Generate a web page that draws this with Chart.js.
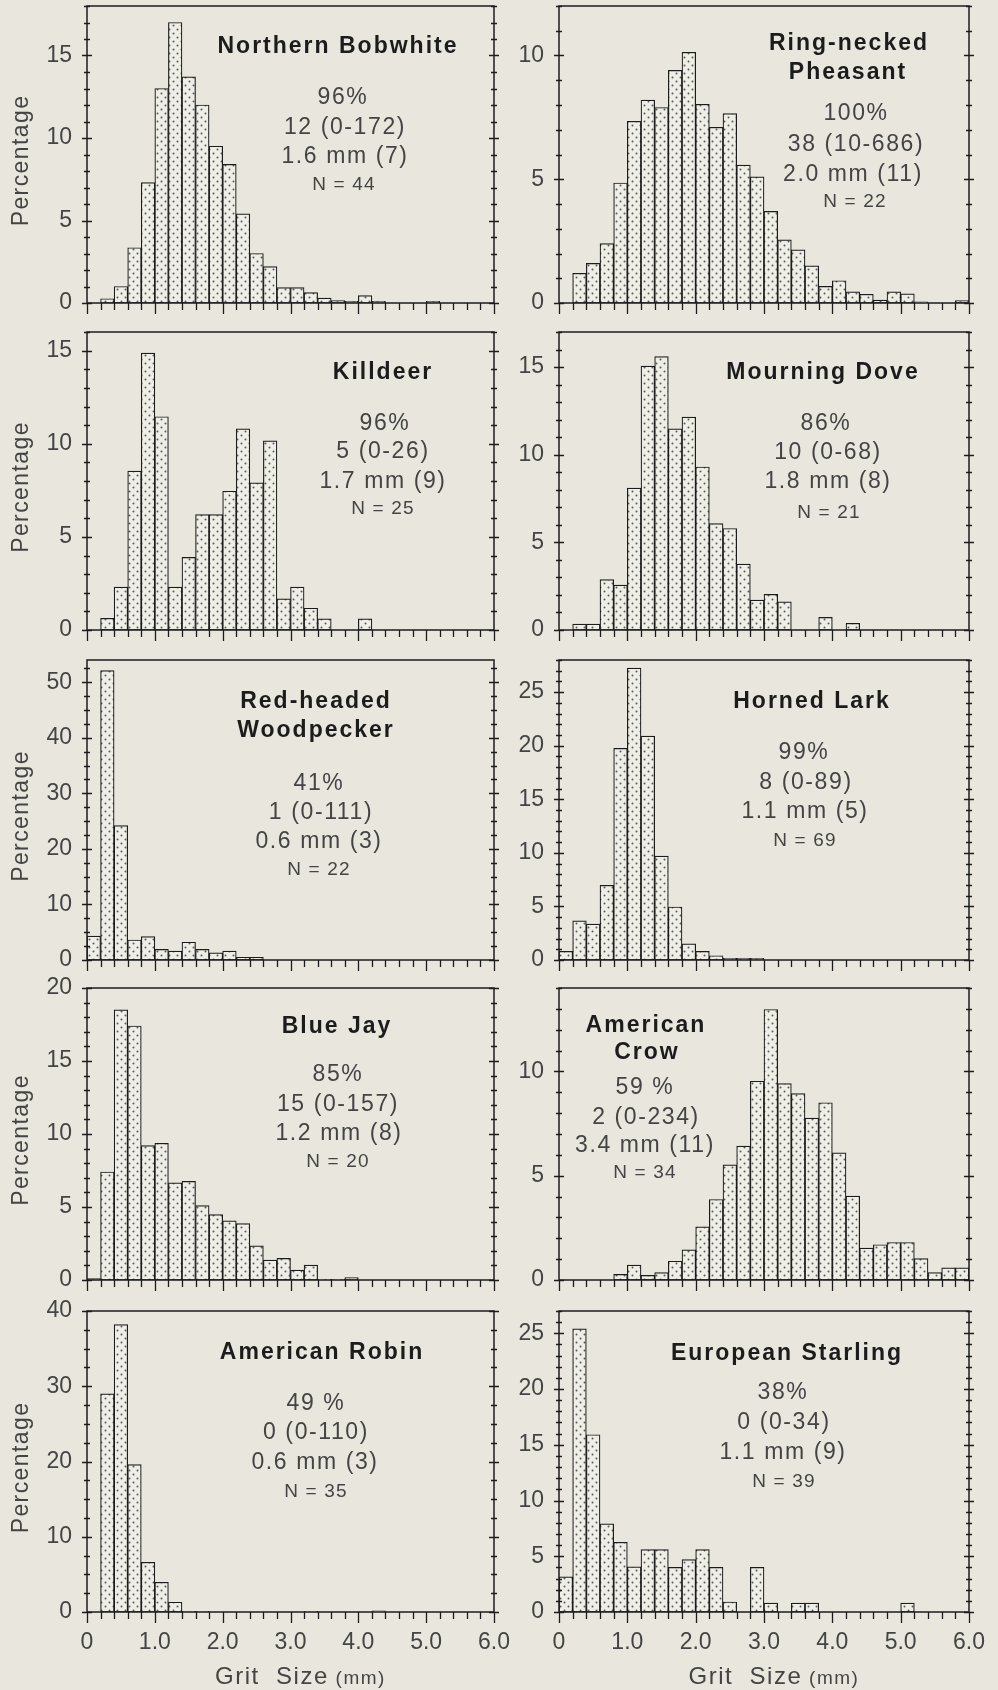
<!DOCTYPE html>
<html>
<head>
<meta charset="utf-8">
<script src="https://cdn.jsdelivr.net/npm/chart.js@4.4.1/dist/chart.umd.min.js"></script>
<style>
  html, body { margin: 0; padding: 0; background: #e8e6dd; }
  #sheet { position: relative; width: 998px; height: 1690px; overflow: hidden; background: #e8e6dd; }
  #sheet canvas { position: absolute; }
</style>
</head>
<body>
<div id="sheet"></div>
<script>
// Grit size classes: lower edge of each 0.2 mm class (mm)
const BIN_START_MM = [0.0, 0.2, 0.4, 0.6, 0.8, 1.0, 1.2, 1.4, 1.6, 1.8,
                      2.0, 2.2, 2.4, 2.6, 2.8, 3.0, 3.2, 3.4, 3.6, 3.8,
                      4.0, 4.2, 4.4, 4.6, 4.8, 5.0, 5.2, 5.4, 5.6, 5.8];
const BIN_WIDTH_MM = 0.2;
const X_TICK_LABELS_MM = [0, 1, 2, 3, 4, 5, 6];

// Percentage of grit particles in each size class, per species
const BOBWHITE_PCT = [0, 0.26, 1.0, 3.35, 7.3, 13.0, 17.0, 13.7, 12.0, 9.5,
                      8.4, 5.4, 3.0, 2.2, 0.93, 0.93, 0.63, 0.3, 0.15, 0.1,
                      0.45, 0.1, 0, 0, 0, 0.1, 0, 0, 0, 0];
const PHEASANT_PCT = [0, 1.2, 1.6, 2.4, 4.85, 7.34, 8.2, 7.9, 9.4, 10.13,
                      8.03, 7.1, 7.65, 5.57, 5.1, 3.7, 2.55, 2.15, 1.5, 0.67,
                      0.9, 0.45, 0.35, 0.12, 0.45, 0.37, 0.05, 0, 0, 0.1];
const KILLDEER_PCT = [0, 0.63, 2.3, 8.53, 14.87, 11.45, 2.3, 3.9, 6.2, 6.2,
                      7.45, 10.8, 7.9, 10.16, 1.67, 2.3, 1.17, 0.6, 0, 0,
                      0.6, 0, 0, 0, 0, 0, 0, 0, 0, 0];
const MOURNING_DOVE_PCT = [0, 0.34, 0.34, 2.88, 2.56, 8.1, 15.05, 15.6, 11.48, 12.14,
                           9.3, 6.07, 5.79, 3.76, 1.7, 2.03, 1.6, 0, 0, 0.72,
                           0, 0.38, 0, 0, 0, 0, 0, 0, 0, 0];
const WOODPECKER_PCT = [4.3, 52.1, 24.2, 3.6, 4.2, 1.9, 1.6, 3.2, 1.9, 1.3,
                        1.6, 0.5, 0.5, 0, 0, 0, 0, 0, 0, 0,
                        0, 0, 0, 0, 0, 0, 0, 0, 0, 0];
const HORNED_LARK_PCT = [0.8, 3.65, 3.35, 6.97, 19.75, 27.25, 20.9, 9.7, 4.95, 1.5,
                         0.8, 0.4, 0.15, 0.15, 0.15, 0, 0, 0, 0, 0,
                         0, 0, 0, 0, 0, 0, 0, 0, 0, 0];
const BLUE_JAY_PCT = [0.1, 7.4, 18.5, 17.4, 9.2, 9.36, 6.66, 6.75, 5.1, 4.48,
                      4.05, 3.86, 2.34, 1.36, 1.48, 0.68, 1.02, 0.05, 0.05, 0.16,
                      0, 0, 0, 0, 0, 0, 0, 0, 0, 0];
const CROW_PCT = [0, 0, 0, 0, 0.27, 0.71, 0.22, 0.35, 0.9, 1.45,
                  2.55, 3.86, 5.52, 6.42, 9.53, 12.97, 9.42, 8.94, 7.76, 8.5,
                  6.1, 4.02, 1.53, 1.69, 1.8, 1.8, 1.03, 0.35, 0.58, 0.58];
const ROBIN_PCT = [0, 29.0, 38.2, 19.6, 6.6, 3.95, 1.3, 0.1, 0.1, 0,
                   0, 0, 0, 0, 0, 0, 0.1, 0, 0, 0,
                   0, 0.15, 0, 0, 0, 0, 0, 0, 0, 0];
const STARLING_PCT = [3.15, 25.4, 15.9, 7.9, 6.25, 4.05, 5.6, 5.6, 4.0, 4.7,
                      5.6, 4.0, 0.9, 0, 4.0, 0.8, 0, 0.8, 0.8, 0,
                      0, 0, 0, 0, 0, 0.8, 0, 0, 0, 0];

// Species summaries: title lines, then occurrence, grit count (range), mean size (max), sample size
const BOBWHITE_TEXT = ['Northern Bobwhite', '96%', '12 (0-172)', '1.6 mm (7)', 'N = 44'];
const PHEASANT_TEXT = ['Ring-necked', 'Pheasant', '100%', '38 (10-686)', '2.0 mm (11)', 'N = 22'];
const KILLDEER_TEXT = ['Killdeer', '96%', '5 (0-26)', '1.7 mm (9)', 'N = 25'];
const MOURNING_DOVE_TEXT = ['Mourning Dove', '86%', '10 (0-68)', '1.8 mm (8)', 'N = 21'];
const WOODPECKER_TEXT = ['Red-headed', 'Woodpecker', '41%', '1 (0-111)', '0.6 mm (3)', 'N = 22'];
const HORNED_LARK_TEXT = ['Horned Lark', '99%', '8 (0-89)', '1.1 mm (5)', 'N = 69'];
const BLUE_JAY_TEXT = ['Blue Jay', '85%', '15 (0-157)', '1.2 mm (8)', 'N = 20'];
const CROW_TEXT = ['American', 'Crow', '59 %', '2 (0-234)', '3.4 mm (11)', 'N = 34'];
const ROBIN_TEXT = ['American Robin', '49 %', '0 (0-110)', '0.6 mm (3)', 'N = 35'];
const STARLING_TEXT = ['European Starling', '38%', '0 (0-34)', '1.1 mm (9)', 'N = 39'];

const Y_AXIS_TITLE = 'Percentage';
const X_AXIS_TITLE = 'Grit  Size';
const X_AXIS_UNIT = ' (mm)';

// ---------- layout & styling ----------
const FONT = "'Liberation Sans', Arial, Helvetica, sans-serif";
const INK = '#1c1c1c';
const SOFT_INK = '#444444';
const COL_LEFT = [87, 559];
const COL_RIGHT = [494, 969];
const ROW_TOP = [6, 332, 660, 988, 1311];
const ROW_BOTTOM = [303, 630, 960, 1280, 1612];
const CANVAS_LEFT = [0, 479];

// Text block placement (page x, page y of each line's centre) and styles
const BLOCKS = {
  bobwhite:  { x: [338, 343, 345, 345, 344], y: [47, 98, 128, 157, 185], titleLines: 1 },
  pheasant:  { x: [849, 848, 856, 856, 853, 855], y: [44, 73, 114, 145, 175, 202], titleLines: 2 },
  killdeer:  { x: [383, 385, 383, 383, 383], y: [373, 424, 452, 482, 509], titleLines: 1 },
  dove:      { x: [823, 826, 828, 828, 829], y: [373, 424, 453, 482, 513], titleLines: 1 },
  woodpecker:{ x: [316, 316, 319, 321, 319, 319], y: [702, 731, 784, 813, 842, 870], titleLines: 2 },
  lark:      { x: [812, 804, 806, 805, 805], y: [702, 753, 783, 812, 841], titleLines: 1 },
  bluejay:   { x: [337, 338, 338, 339, 338], y: [1027, 1075, 1105, 1134, 1162], titleLines: 1 },
  crow:      { x: [646, 647, 645, 646, 645, 645], y: [1026, 1053, 1088, 1118, 1146, 1173], titleLines: 2 },
  robin:     { x: [322, 316, 316, 315, 316], y: [1353, 1404, 1433, 1463, 1492], titleLines: 1 },
  starling:  { x: [787, 783, 784, 783, 784], y: [1354, 1393, 1423, 1453, 1482], titleLines: 1 }
};

const PANELS = [
  { key: 'bobwhite',   values: BOBWHITE_PCT,      text: BOBWHITE_TEXT,      row: 0, col: 0, yMax: 18, yMajor: 5,  yMinor: 1 },
  { key: 'pheasant',   values: PHEASANT_PCT,      text: PHEASANT_TEXT,      row: 0, col: 1, yMax: 12, yMajor: 5,  yMinor: 1 },
  { key: 'killdeer',   values: KILLDEER_PCT,      text: KILLDEER_TEXT,      row: 1, col: 0, yMax: 16, yMajor: 5,  yMinor: 1 },
  { key: 'dove',       values: MOURNING_DOVE_PCT, text: MOURNING_DOVE_TEXT, row: 1, col: 1, yMax: 17, yMajor: 5,  yMinor: 1 },
  { key: 'woodpecker', values: WOODPECKER_PCT,    text: WOODPECKER_TEXT,    row: 2, col: 0, yMax: 54, yMajor: 10, yMinor: 2.5 },
  { key: 'lark',       values: HORNED_LARK_PCT,   text: HORNED_LARK_TEXT,   row: 2, col: 1, yMax: 28, yMajor: 5,  yMinor: 1 },
  { key: 'bluejay',    values: BLUE_JAY_PCT,      text: BLUE_JAY_TEXT,      row: 3, col: 0, yMax: 20, yMajor: 5,  yMinor: 1 },
  { key: 'crow',       values: CROW_PCT,          text: CROW_TEXT,          row: 3, col: 1, yMax: 14, yMajor: 5,  yMinor: 1 },
  { key: 'robin',      values: ROBIN_PCT,         text: ROBIN_TEXT,         row: 4, col: 0, yMax: 40, yMajor: 10, yMinor: 2.5 },
  { key: 'starling',   values: STARLING_PCT,      text: STARLING_TEXT,      row: 4, col: 1, yMax: 27, yMajor: 5,  yMinor: 1 }
];

// Dotted screen used to fill the bars
function makeStipple(ctx) {
  const tile = document.createElement('canvas');
  tile.width = 8; tile.height = 8;
  const g = tile.getContext('2d');
  g.fillStyle = '#eeede6';
  g.fillRect(0, 0, 8, 8);
  g.fillStyle = '#5a5a5a';
  [[1.5, 1.5], [5.5, 5.5]].forEach(([cx, cy]) => {
    g.beginPath(); g.arc(cx, cy, 1.0, 0, Math.PI * 2); g.fill();
  });
  return ctx.createPattern(tile, 'repeat');
}

// Box frame plus inside/outside tick marks drawn from the chart's own scales
const frameTicks = {
  id: 'frameTicks',
  afterDatasetsDraw(chart, args, opts) {
    const { ctx, chartArea: a, scales: { x, y } } = chart;
    ctx.save();
    ctx.strokeStyle = INK;
    ctx.lineWidth = 1.5;
    ctx.strokeRect(a.left, a.top, a.right - a.left, a.bottom - a.top);
    ctx.lineWidth = 1.3;
    ctx.beginPath();
    const nx = Math.round((x.max - x.min) / BIN_WIDTH_MM);
    for (let k = 0; k <= nx; k++) {
      const px = Math.round(x.getPixelForValue(x.min + k * BIN_WIDTH_MM)) + 0.5;
      const len = (k % 5 === 0) ? 11 : 7;
      ctx.moveTo(px, a.bottom); ctx.lineTo(px, a.bottom + len);
    }
    const ny = Math.floor(y.max / opts.minor + 1e-6);
    const perMajor = Math.round(opts.major / opts.minor);
    for (let k = 0; k <= ny; k++) {
      const py = Math.round(y.getPixelForValue(k * opts.minor)) + 0.5;
      const len = (k % perMajor === 0) ? 5 : 3;
      ctx.moveTo(a.left - len, py); ctx.lineTo(a.left + len, py);
      ctx.moveTo(a.right - len, py); ctx.lineTo(a.right + len, py);
    }
    ctx.stroke();
    ctx.restore();
  }
};

// Species names, summary lines and axis titles
const panelText = {
  id: 'panelText',
  afterDraw(chart, args, o) {
    const { ctx, chartArea: a } = chart;
    ctx.save();
    ctx.textAlign = 'center';
    ctx.textBaseline = 'middle';
    o.lines.forEach((line, i) => {
      const isTitle = i < o.titleLines;
      const isN = i === o.lines.length - 1;
      if (isTitle) {
        ctx.font = `bold 23px ${FONT}`; ctx.fillStyle = INK; ctx.letterSpacing = '2px';
      } else if (isN) {
        ctx.font = `19px ${FONT}`; ctx.fillStyle = SOFT_INK; ctx.letterSpacing = '1.2px';
      } else {
        ctx.font = `23px ${FONT}`; ctx.fillStyle = SOFT_INK; ctx.letterSpacing = '1.6px';
      }
      ctx.fillText(line, o.xs[i] - o.originX, o.ys[i] - o.originY);
    });
    ctx.letterSpacing = '0px';
    if (o.yTitle) {
      ctx.save();
      ctx.translate(22 - o.originX, (a.top + a.bottom) / 2 + 6);
      ctx.rotate(-Math.PI / 2);
      ctx.font = `23px ${FONT}`;
      ctx.fillStyle = SOFT_INK;
      ctx.letterSpacing = '1.4px';
      ctx.fillText(Y_AXIS_TITLE, 0, 0);
      ctx.restore();
    }
    if (o.xTitle) {
      ctx.textAlign = 'left';
      ctx.fillStyle = SOFT_INK;
      ctx.font = `24px ${FONT}`;
      ctx.letterSpacing = '1.5px';
      const w1 = ctx.measureText(X_AXIS_TITLE).width;
      ctx.font = `19px ${FONT}`;
      const w2 = ctx.measureText(X_AXIS_UNIT).width;
      const cx = (a.left + a.right) / 2 + 10;
      const yy = a.bottom + 65;
      const x0 = cx - (w1 + w2) / 2;
      ctx.font = `24px ${FONT}`;
      ctx.fillText(X_AXIS_TITLE, x0, yy);
      ctx.font = `19px ${FONT}`;
      ctx.fillText(X_AXIS_UNIT, x0 + w1, yy + 2);
    }
    ctx.restore();
  }
};

function noScalePadding(s) {
  s.paddingLeft = 0; s.paddingRight = 0; s.paddingTop = 0; s.paddingBottom = 0;
}

const sheet = document.getElementById('sheet');
const PAD_TOP = 18, PAD_RIGHT = 28;

PANELS.forEach(p => {
  const isBottom = p.row === 4;
  const frameL = COL_LEFT[p.col], frameR = COL_RIGHT[p.col];
  const frameT = ROW_TOP[p.row], frameB = ROW_BOTTOM[p.row];
  const cLeft = CANVAS_LEFT[p.col];
  const cTop = frameT - PAD_TOP;
  const axisH = isBottom ? (1690 - frameB) : 18;
  const yAxisW = frameL - cLeft;
  const cw = frameR + PAD_RIGHT - cLeft;
  const ch = frameB + axisH - cTop;

  const canvas = document.createElement('canvas');
  canvas.width = cw; canvas.height = ch;
  canvas.style.left = cLeft + 'px';
  canvas.style.top = cTop + 'px';
  canvas.style.width = cw + 'px';
  canvas.style.height = ch + 'px';
  sheet.appendChild(canvas);
  const ctx = canvas.getContext('2d');

  const yMajors = [];
  for (let v = 0; v <= p.yMax + 1e-6; v += p.yMajor) yMajors.push(v);

  const block = BLOCKS[p.key];

  new Chart(ctx, {
    type: 'bar',
    data: {
      datasets: [{
        data: BIN_START_MM.map((s, i) => ({ x: s + BIN_WIDTH_MM / 2, y: p.values[i] })),
        backgroundColor: makeStipple(ctx),
        borderColor: INK,
        borderWidth: 1.2,
        borderSkipped: false,
        barPercentage: 1,
        categoryPercentage: 1
      }]
    },
    options: {
      responsive: false,
      animation: false,
      devicePixelRatio: 1,
      events: [],
      layout: { padding: { left: 0, right: PAD_RIGHT, top: PAD_TOP, bottom: 0 }, autoPadding: false },
      plugins: {
        legend: { display: false },
        tooltip: { enabled: false },
        frameTicks: { major: p.yMajor, minor: p.yMinor },
        panelText: {
          lines: p.text, xs: block.x, ys: block.y, titleLines: block.titleLines,
          originX: cLeft, originY: cTop, yTitle: p.col === 0, xTitle: isBottom
        }
      },
      scales: {
        x: {
          type: 'linear', min: 0, max: 6, offset: false,
          grid: { display: false, drawTicks: false },
          border: { display: false },
          ticks: {
            display: isBottom, autoSkip: false, maxRotation: 0, padding: 17,
            color: SOFT_INK, font: { family: FONT, size: 23 },
            callback: v => (v === 0 ? '0' : Number(v).toFixed(1))
          },
          afterBuildTicks: s => { s.ticks = X_TICK_LABELS_MM.map(v => ({ value: v })); },
          afterFit: s => { s.height = axisH; noScalePadding(s); }
        },
        y: {
          type: 'linear', min: 0, max: p.yMax,
          grid: { display: false, drawTicks: false },
          border: { display: false },
          ticks: { padding: 15, color: SOFT_INK, font: { family: FONT, size: 23 } },
          afterBuildTicks: s => { s.ticks = yMajors.map(v => ({ value: v })); },
          afterFit: s => { s.width = yAxisW; noScalePadding(s); }
        }
      }
    },
    plugins: [frameTicks, panelText]
  });
});
</script>
</body>
</html>
